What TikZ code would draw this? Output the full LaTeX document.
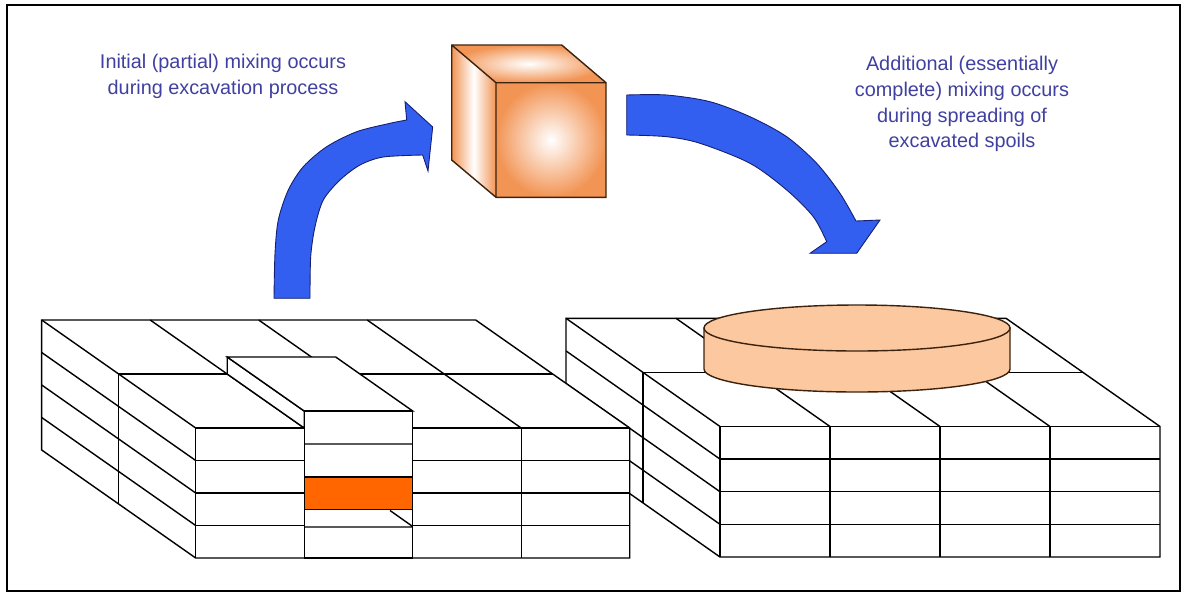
\documentclass[tikz,border=0pt]{standalone}
\usepackage{fontspec}
\setmainfont{Liberation Sans}
\usepackage{xcolor}
\usetikzlibrary{calc}
\definecolor{arrowblue}{RGB}{50,95,240}
\definecolor{arrowedge}{RGB}{20,30,110}
\definecolor{notetext}{RGB}{64,64,160}
\definecolor{cubeor}{RGB}{242,148,84}
\definecolor{cubeedge}{RGB}{60,35,15}
\definecolor{spoilpeach}{RGB}{252,200,160}
\definecolor{spoilorange}{RGB}{255,102,0}
\tikzset{>=stealth}
\tikzset{
  cellline/.style={line width=0.8pt,black},
  blockface/.style={cellline,fill=white},
  frameline/.style={line width=1.1pt,black},
  bigarrow/.style={fill=arrowblue,draw=arrowedge,line width=0.5pt},
  cubeline/.style={draw=cubeedge,line width=0.8pt},
  cylface/.style={fill=spoilpeach,draw=cubeedge,line width=0.8pt},
  note/.style={text=notetext,align=center,font=\fontsize{11.3}{14.7}\selectfont}
}

\begin{document}
\begin{tikzpicture}[x=0.02cm,y=-0.02cm]
  \useasboundingbox (0,0) rectangle (1186,596);
  \draw[frameline] (7,5) rectangle (1180,591);

  % right block, behind
  \filldraw[blockface] (566,318.3)--(1006,318.3)--(1160,426.5)--(1160,557)--(720,557)--(566,448.8)--cycle;
  \foreach \k in {0,...,3}
    \draw[cellline] (566+110*\k,318.3)--(720+110*\k,426.5);
  \draw[cellline] (643,372.4)--(1083,372.4);
  \draw[cellline] (643,372.4)--(643,502.9);
  \foreach \j in {1,2,3}
    \draw[cellline] (566,318.3+32.6*\j)--(720,426.5+32.6*\j);
  \draw[cellline] (720,426.5)--(1160,426.5) (720,426.5)--(720,557);
  \foreach \k in {1,2,3}
    \draw[cellline] (720+110*\k,426.5)--(720+110*\k,557);
  \foreach \j in {1,2,3}
    \draw[cellline] (720,426.5+32.6*\j)--(1160,426.5+32.6*\j);

  % spread spoils
  \filldraw[cylface] (704,328)--(704,369) arc[start angle=180,end angle=0,x radius=153,y radius=23]--(1010,328)--cycle;
  \filldraw[cylface] (857,328) ellipse[x radius=153,y radius=23];

  % left block
  \filldraw[blockface] (41.7,320)--(475.7,320)--(629.7,428)--(629.7,558)--(195.7,558)--(41.7,450)--cycle;
  \foreach \k in {0,...,3}
    \draw[cellline] (41.7+108.5*\k,320)--(195.7+108.5*\k,428);
  \draw[cellline] (118.7,374)--(552.7,374);
  \draw[cellline] (118.7,374)--(118.7,504);
  \foreach \j in {1,2,3}
    \draw[cellline] (41.7,320+32.5*\j)--(195.7,428+32.5*\j);
  \draw[cellline] (195.7,428)--(629.7,428) (195.7,428)--(195.7,558);
  \foreach \k in {1,2,3}
    \draw[cellline] (195.7+108.5*\k,428)--(195.7+108.5*\k,558);
  \foreach \j in {1,2,3}
    \draw[cellline] (195.7,428+32.5*\j)--(629.7,428+32.5*\j);

  % lifted core
  \filldraw[blockface] (227.2,357)--(304.2,411)--(304.2,428)--(227.2,374)--cycle;
  \filldraw[blockface] (227.2,357)--(335.7,357)--(412.7,411)--(304.2,411)--cycle;
  \filldraw[blockface] (304.2,411) rectangle (412.7,558);
  \filldraw[cellline,fill=spoilorange] (304.2,477) rectangle (412.7,509.5);
  \draw[cellline] (304.2,444)--(412.7,444) (304.2,527)--(412.7,527) (390,510.5)--(412.7,526.5);

  % mixed cube
  \shade[left color=cubeor,right color=cubeor,middle color=white] (451.7,45)--(496,82.7)--(496,197.3)--(451.7,160)--cycle;
  \shade[inner color=white,outer color=cubeor] (451.7,45)--(561.7,45)--(606,82.7)--(496,82.7)--cycle;
  \shade[inner color=white,outer color=cubeor] (496,82.7) rectangle (606,197.3);
  \draw[cubeline] (451.7,45)--(561.7,45)--(606,82.7)--(606,197.3)--(496,197.3)--(451.7,160)--cycle
    (496,82.7)--(606,82.7) (496,82.7)--(451.7,45) (496,82.7)--(496,197.3);

  % arrows
  \filldraw[bigarrow] plot[smooth] coordinates {(274,298.3) (275,253.3) (278.3,220) (288.3,190) (303.3,166.7) (326.7,146.7) (356.7,131.7) (390,123.3) (406.7,120)}
    -- (405,101.7) -- (432.7,127) -- (428,171) -- (422.7,155)
    -- plot[smooth] coordinates {(422.7,155) (383.3,157) (360,165) (340,180) (323.3,200) (315,226.7) (310.7,256.7) (310,298.3)} -- cycle;
  \filldraw[bigarrow] plot[smooth] coordinates {(626.7,95) (666.7,95) (710,101.7) (750,116.7) (786.7,136.7) (816.7,163.3) (840,193.3) (856,221)}
    -- (880,220) -- (856.7,253.3) -- (810,253.3) -- (826.7,241.7)
    -- plot[smooth] coordinates {(826.7,241.7) (813.3,216.7) (786.7,190) (750,163.3) (700,143.3) (666.7,136.7) (626.7,135)} -- cycle;

  % labels
  \node[note] at (223,76) (dig) {Initial (partial) mixing occurs\\during excavation process};
  \node[note] at (962,104) (spread) {Additional (essentially\\complete) mixing occurs\\during spreading of\\excavated spoils};
\end{tikzpicture}
\end{document}
